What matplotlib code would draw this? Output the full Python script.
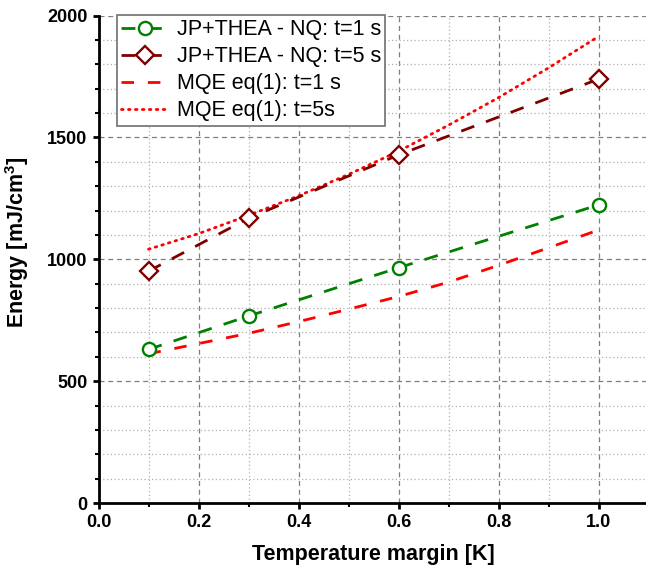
import matplotlib
matplotlib.use("Agg")
import matplotlib.pyplot as plt
from matplotlib.ticker import MultipleLocator

plt.rcParams['font.family'] = ['Liberation Sans', 'DejaVu Sans']
plt.rcParams['mathtext.fontset'] = 'custom'
plt.rcParams['mathtext.rm'] = 'Liberation Sans:bold'
plt.rcParams['mathtext.bf'] = 'Liberation Sans:bold'

# Simulated quench energies (JP+THEA, normal-zone propagation)
x_sim = [0.1, 0.3, 0.6, 1.0]
e_sim_t1 = [630, 767, 965, 1223]
e_sim_t5 = [951, 1168, 1428, 1739]

# Analytic MQE from eq(1)
x_mqe = [0.1, 0.2, 0.3, 0.4, 0.5, 0.6, 0.7, 0.8, 0.9, 1.0]
e_mqe_t1 = [612, 654, 696, 744, 795, 847, 906, 975, 1047, 1120]
e_mqe_t5 = [1041, 1105, 1180, 1260, 1348, 1443, 1550, 1663, 1785, 1914]

labels = ["JP+THEA - NQ: t=1 s", "JP+THEA - NQ: t=5 s",
          "MQE eq(1): t=1 s", "MQE eq(1): t=5s"]

fig = plt.figure(figsize=(6.46, 5.75), dpi=100)
ax = fig.add_axes([98.5 / 646, 1 - 503 / 575, 550 / 646, 487.5 / 575])

lw = 2.0
ax.plot(x_sim, e_sim_t1, color='#008000', lw=lw, dashes=(5, 4.5),
        marker='o', ms=9.5, mfc='white', mec='#008000', mew=1.7,
        label=labels[0], zorder=4)
ax.plot(x_sim, e_sim_t5, color='#800000', lw=lw, dashes=(5, 4.5),
        marker='D', ms=9.5, mfc='white', mec='#800000', mew=1.7,
        label=labels[1], zorder=4)
ax.plot(x_mqe, e_mqe_t1, color='#ff0000', lw=lw, dashes=(4.5, 5),
        label=labels[2], zorder=3)
ax.plot(x_mqe, e_mqe_t5, color='#ff0000', lw=lw, dashes=(0.6, 1.9),
        dash_capstyle='round', label=labels[3], zorder=3)

ax.set_xlim(0, 1.1)
ax.set_ylim(0, 2000)
ax.xaxis.set_major_locator(MultipleLocator(0.2))
ax.xaxis.set_minor_locator(MultipleLocator(0.1))
ax.yaxis.set_major_locator(MultipleLocator(500))
ax.yaxis.set_minor_locator(MultipleLocator(100))
ax.set_xticks([0.0, 0.2, 0.4, 0.6, 0.8, 1.0])
ax.set_xticklabels(['0.0', '0.2', '0.4', '0.6', '0.8', '1.0'])

ax.grid(which='major', color='#7f7f7f', ls=(0, (4, 3)), lw=0.9)
ax.grid(which='minor', color='#b0b0b0', ls=(0, (1, 2)), lw=0.9)
ax.set_axisbelow(True)

for side in ('top', 'right'):
    ax.spines[side].set_visible(False)
for side in ('left', 'bottom'):
    ax.spines[side].set_linewidth(2.0)

ax.tick_params(which='major', direction='out', length=4.5, width=2.0,
               labelsize=13, pad=3.5)
ax.tick_params(which='minor', direction='out', length=3, width=1.5)
for t in ax.get_xticklabels() + ax.get_yticklabels():
    t.set_fontweight('bold')

ax.set_xlabel('Temperature margin [K]', fontsize=15.5, fontweight='bold',
              labelpad=9)
ax.set_ylabel(r'Energy [mJ/cm$^{3}$]', fontsize=15.5, fontweight='bold')
ax.yaxis.set_label_coords(-0.122, 0.535)

leg = ax.legend(loc='upper left', bbox_to_anchor=(0.025, 1.01),
                fontsize=15.5, frameon=True, fancybox=False,
                borderpad=0.2, labelspacing=0.28, handlelength=2.2,
                handletextpad=0.4, borderaxespad=0.2)
leg.get_frame().set_edgecolor('#6f6f6f')
leg.get_frame().set_linewidth(1.2)
leg.get_frame().set_alpha(1)

fig.savefig('out.png', dpi=100)
